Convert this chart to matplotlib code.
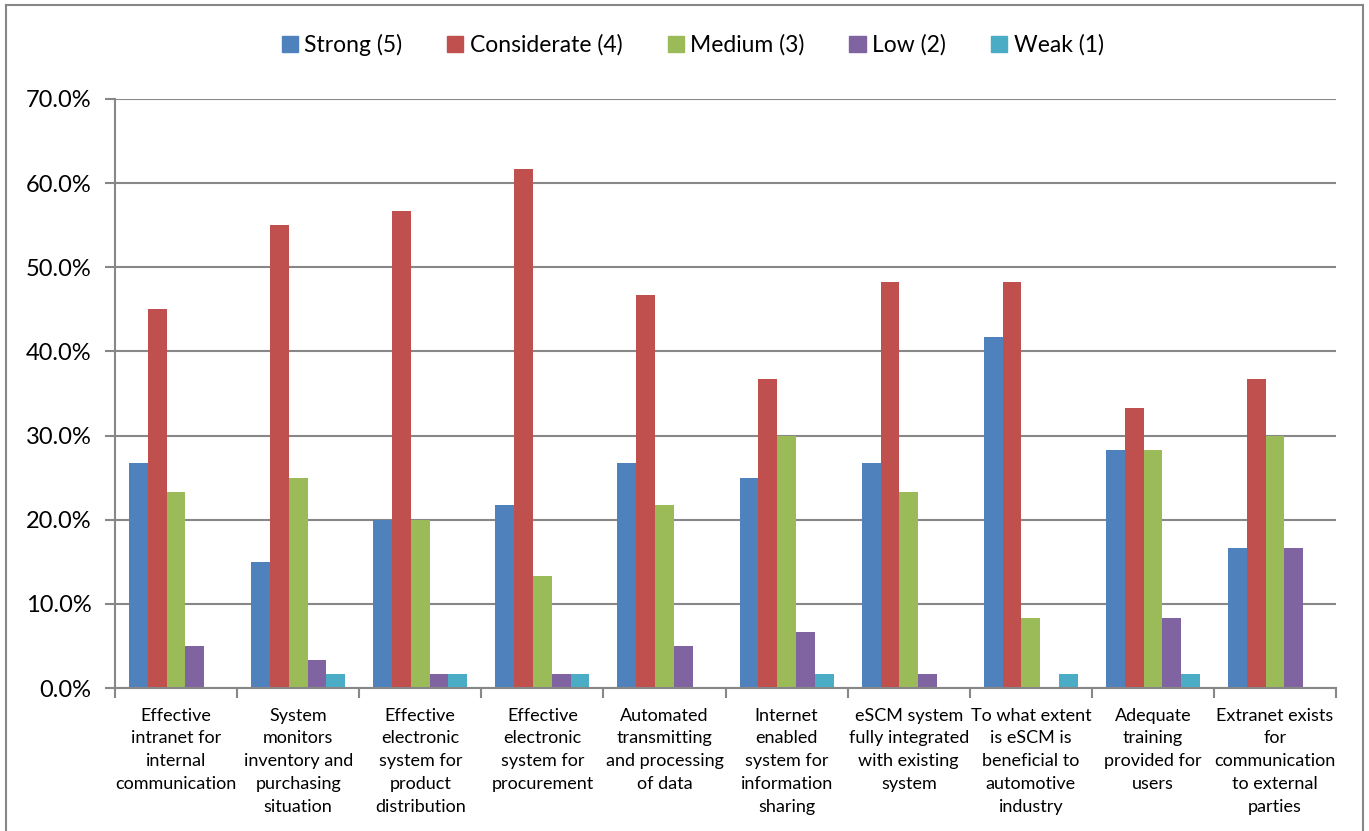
import numpy as np
import matplotlib
matplotlib.use("Agg")
import matplotlib.pyplot as plt
from matplotlib.lines import Line2D
from matplotlib.ticker import FuncFormatter

plt.rcParams['font.family'] = ['Lato', 'DejaVu Sans']

# Survey items (category labels, pre-wrapped)
categories = [
    "Effective\nintranet for\ninternal\ncommunication",
    "System\nmonitors\ninventory and\npurchasing\nsituation",
    "Effective\nelectronic\nsystem for\nproduct\ndistribution",
    "Effective\nelectronic\nsystem for\nprocurement",
    "Automated\ntransmitting\nand processing\nof data",
    "Internet\nenabled\nsystem for\ninformation\nsharing",
    "eSCM system\nfully integrated\nwith existing\nsystem",
    "To what extent\nis eSCM is\nbeneficial to\nautomotive\nindustry",
    "Adequate\ntraining\nprovided for\nusers",
    "Extranet exists\nfor\ncommunication\nto external\nparties",
]

series_names = ["Strong (5)", "Considerate (4)", "Medium (3)", "Low (2)", "Weak (1)"]

# Share of respondents (%) per rating
strong = [26.7, 15.0, 20.0, 21.7, 26.7, 25.0, 26.7, 41.7, 28.3, 16.7]
considerate = [45.0, 55.0, 56.7, 61.7, 46.7, 36.7, 48.3, 48.3, 33.3, 36.7]
medium = [23.3, 25.0, 20.0, 13.3, 21.7, 30.0, 23.3, 8.3, 28.3, 30.0]
low = [5.0, 3.3, 1.7, 1.7, 5.0, 6.7, 1.7, 0.0, 8.3, 16.7]
weak = [0.0, 1.7, 1.7, 1.7, 0.0, 1.7, 0.0, 1.7, 1.7, 0.0]

colors = ["#4F81BD", "#C0504D", "#9BBB59", "#8064A2", "#4BACC6"]
grid_gray = "#878787"

fig = plt.figure(figsize=(13.69, 8.31), dpi=100)
ax = fig.add_axes([0.084, 0.172, 0.892, 0.709])

x = np.arange(len(categories))
bar_w = 0.154
all_series = [strong, considerate, medium, low, weak]
for i, (vals, name, col) in enumerate(zip(all_series, series_names, colors)):
    offs = (i - 2) * bar_w
    ax.bar(x + offs, vals, width=bar_w, color=col, label=name,
           linewidth=0, zorder=3)

ax.set_xlim(-0.5, len(categories) - 0.5)
ax.set_ylim(0, 70)
ax.set_yticks(np.arange(0, 71, 10))
ax.yaxis.set_major_formatter(FuncFormatter(lambda v, p: f"{v:.1f}%"))
ax.grid(axis="y", color=grid_gray, linewidth=1.5, zorder=0)

# category boundaries as x ticks, labels as minor ticks at centers
ax.set_xticks(np.arange(-0.5, len(categories), 1.0))
ax.set_xticklabels([])
ax.set_xticks(x, minor=True)
ax.set_xticklabels(categories, minor=True, fontsize=13, linespacing=1.52)
ax.tick_params(axis="x", which="minor", length=0, pad=14)
ax.tick_params(axis="x", which="major", length=7, width=1.5, color=grid_gray)
ax.tick_params(axis="y", length=7, width=1.5, color=grid_gray, labelsize=17, pad=10)

for s in ["top", "right"]:
    ax.spines[s].set_visible(False)
for s in ["left", "bottom"]:
    ax.spines[s].set_color(grid_gray)
    ax.spines[s].set_linewidth(1.5)
    ax.spines[s].set_zorder(4)

handles = [plt.Rectangle((0, 0), 1, 1, color=c) for c in colors]
fig.legend(handles, series_names, loc="center", bbox_to_anchor=(0.506, 0.946),
           ncol=5, frameon=False, fontsize=16.5, handlelength=0.7, handleheight=0.7,
           handletextpad=0.3, columnspacing=1.95)

# chart border
for xs, ys in [([0.0045, 0.0045], [0.0, 0.994]), ([0.0045, 0.9955], [0.994, 0.994]),
               ([0.9955, 0.9955], [0.0, 0.994])]:
    fig.add_artist(Line2D(xs, ys, color=grid_gray, linewidth=1.5, transform=fig.transFigure))

fig.savefig("out.png", dpi=100)
